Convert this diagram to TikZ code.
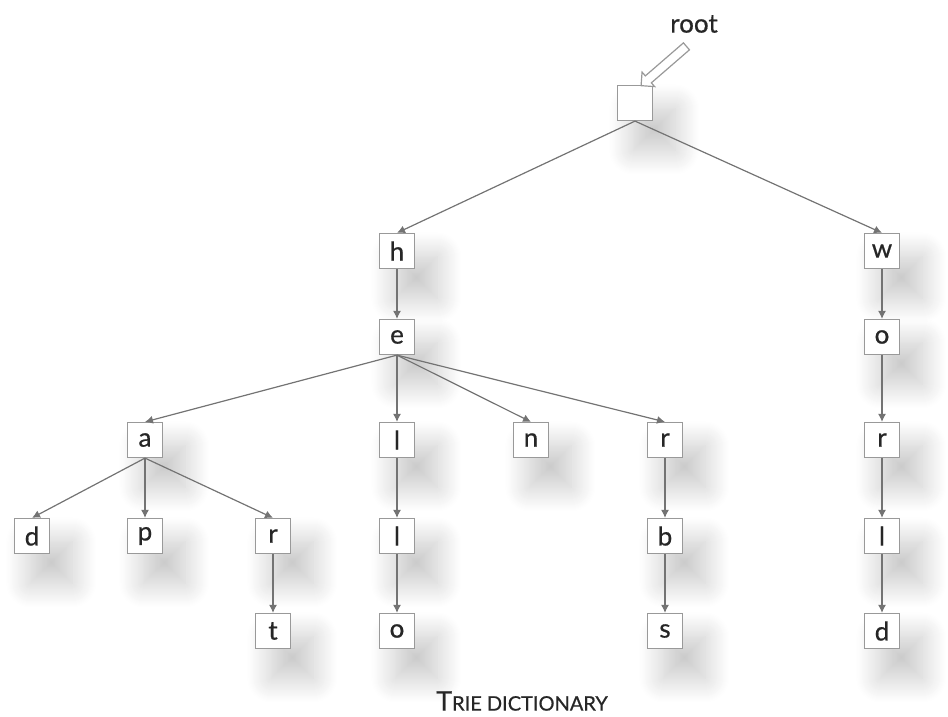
\documentclass[tikz,border=0pt]{standalone}
\usepackage{fontspec}
\setmainfont{Lato}
\newfontfamily\boxfont[FakeBold=0.6]{Lato}
\usetikzlibrary{arrows.meta,shapes.arrows,shadows.blur}
\tikzset{
  letter/.style={draw=black!40, fill=white, line width=0.6pt, minimum size=17.5pt, inner sep=0pt,
    font=\boxfont\fontsize{13}{13}\selectfont, text=black!85,
    blur shadow={shadow xshift=8pt, shadow yshift=-11pt, shadow scale=1.2, shadow blur radius=10pt,
      shadow blur steps=24, shadow opacity=22}},
  link/.style={draw=black!55, line width=0.6pt, -{Latex[length=4pt,width=4pt]}},
  pointer/.style={single arrow, draw=black!40, fill=white, line width=0.6pt, inner sep=2pt,
    minimum height=30pt, single arrow head extend=2.5pt, single arrow head indent=0pt}
}
\begin{document}
\begin{tikzpicture}[x=0.5pt,y=-0.5pt]
    \useasboundingbox (0,0) rectangle (948,717);
    \node[letter] (root) at (635,103) {};
    \foreach \name/\x/\y/\c in {h/397/251/h, w/882/251/w, e/397/337/e, o2/882/337/o,
        a/145/440/a, l1/397/440/l, n/531/440/n, r1/665/440/r, r3/882/440/r,
        d1/32/536/d, p/145/536/p, r2/273/536/r, l2/397/536/l, b/665/536/b, l3/882/536/l,
        t/273/631/t, o1/397/631/o, s/665/631/s, d2/882/631/d}
      {
        \node[letter] (\name) at (\x,\y) {\c};
      }
    \foreach \from/\to in {root/h, root/w, h/e, w/o2, e/a, e/l1, e/n, e/r1, o2/r3,
        a/d1, a/p, a/r2, l1/l2, r1/b, r3/l3, r2/t, l2/o1, b/s, l3/d2}
      {
        \draw[link] (\from.south) -- (\to.north);
      }
    \node[font=\boxfont\fontsize{13}{13}\selectfont, text=black!85] (rootlabel) at (694,24) {root};
    \node[pointer, rotate=220.9] (rootptr) at (665.5,64.5) {};
    \node[font=\boxfont, text=black!85] (caption) at (522,701)
      {{\fontsize{13.5}{14}\selectfont T}{\fontsize{10}{14}\selectfont RIE DICTIONARY}};
\end{tikzpicture}
\end{document}
